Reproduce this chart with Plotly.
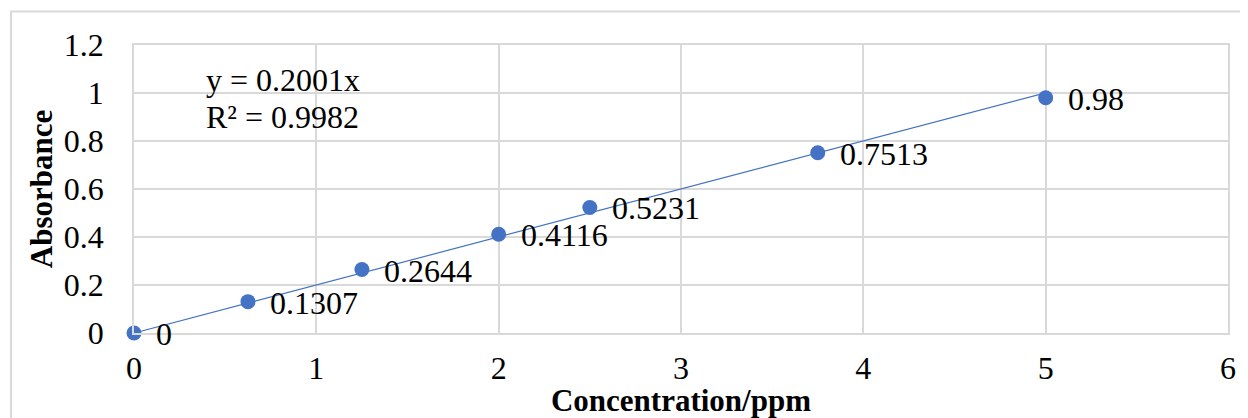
import plotly.graph_objects as go

conc = [0, 0.625, 1.25, 2, 2.5, 3.75, 5]
absorb = [0, 0.1307, 0.2644, 0.4116, 0.5231, 0.7513, 0.98]
labels = ["0", "0.1307", "0.2644", "0.4116", "0.5231", "0.7513", "0.98"]
slope = 0.2001
trend_x = [0, 5]
trend_y = [slope * v for v in trend_x]
eq_text = "y = 0.2001x"
r2_text = "R² = 0.9982"

FONT = "Liberation Serif, Times New Roman, serif"
BLUE = "#4472C4"
GRID = "#d9d9d9"

fig = go.Figure()
fig.add_trace(go.Scatter(x=trend_x, y=trend_y, mode="lines",
                         line=dict(color=BLUE, width=1.2), hoverinfo="skip"))
fig.add_trace(go.Scatter(x=conc, y=absorb, mode="markers",
                         marker=dict(color=BLUE, size=15), cliponaxis=False))

for xv, yv, lab in zip(conc, absorb, labels):
    fig.add_annotation(x=xv, y=yv, text=lab, showarrow=False,
                       xanchor="left", yanchor="middle", xshift=20, yshift=-1,
                       font=dict(family=FONT, size=32, color="black"))

fig.add_annotation(x=0.064, y=0.878, xref="paper", yref="paper", text=eq_text,
                   showarrow=False, xanchor="left", yanchor="middle",
                   font=dict(family=FONT, size=32, color="black"))
fig.add_annotation(x=0.064, y=0.75, xref="paper", yref="paper", text=r2_text,
                   showarrow=False, xanchor="left", yanchor="middle",
                   font=dict(family=FONT, size=32, color="black"))

fig.add_shape(type="rect", xref="paper", yref="paper",
              x0=-0.1124, x1=1.05, y0=-0.5, y1=1.116,
              line=dict(color=GRID, width=2), fillcolor="rgba(0,0,0,0)", layer="below")

fig.update_layout(
    width=1240, height=410,
    margin=dict(l=126, r=20, t=37, b=85),
    paper_bgcolor="white", plot_bgcolor="white",
    showlegend=False,
    font=dict(family=FONT, color="black"),
    xaxis=dict(range=[0, 6], dtick=1, showgrid=True, gridcolor=GRID, gridwidth=1.5,
               zeroline=False, showline=True, linecolor=GRID, linewidth=1.5, mirror=True,
               ticks="outside", ticklen=6, tickcolor="rgba(0,0,0,0)", automargin=False,
               tickfont=dict(family=FONT, size=32, color="black"),
               title=dict(text="<b>Concentration/ppm</b>", standoff=10,
                          font=dict(family=FONT, size=31, color="black"))),
    yaxis=dict(range=[0, 1.2], dtick=0.2, showgrid=True, gridcolor=GRID, gridwidth=1.5,
               zeroline=False, showline=True, linecolor=GRID, linewidth=1.5, mirror=True,
               ticks="outside", ticklen=22, tickcolor="rgba(0,0,0,0)", automargin=False,
               tickfont=dict(family=FONT, size=32, color="black"),
               title=dict(text="<b>Absorbance</b>", standoff=2,
                          font=dict(family=FONT, size=31, color="black"))),
)

fig.write_html("out.html")
